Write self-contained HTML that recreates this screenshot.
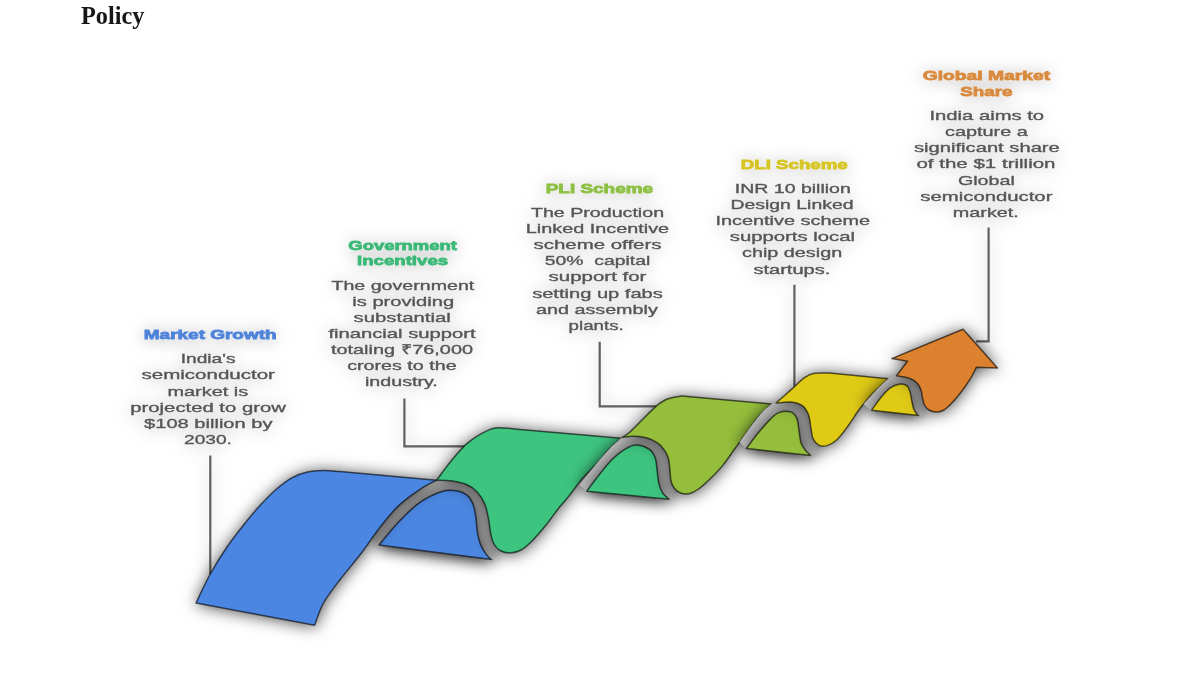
<!DOCTYPE html>
<html><head><meta charset="utf-8"><style>
html,body{margin:0;padding:0;background:#fff;width:1200px;height:675px;overflow:hidden}
svg{position:absolute;left:0;top:0}
</style></head><body>
<svg width="1200" height="675" viewBox="0 0 1200 675" font-family="Liberation Sans, sans-serif">
<defs>
<filter id="sh" x="-50%" y="-50%" width="200%" height="200%">
<feDropShadow dx="0.5" dy="1" stdDeviation="8" flood-color="#000" flood-opacity="0.7"/>
</filter>
<filter id="th" x="-20%" y="-20%" width="140%" height="140%">
<feDropShadow dx="0" dy="1" stdDeviation="8" flood-color="#000" flood-opacity="0.3"/>
</filter>
<filter id="blur" filterUnits="userSpaceOnUse" x="0" y="0" width="1200" height="675"><feGaussianBlur stdDeviation="0.6"/></filter>
</defs>
<g filter="url(#blur)">
<text x="81" y="23.8" font-family="Liberation Serif, serif" font-weight="bold" font-size="24.8" textLength="63.5" lengthAdjust="spacingAndGlyphs" fill="#151515">Policy</text>
<g filter="url(#th)">
<path d="M210.3,455.5 L210.3,574" fill="none" stroke="#606060" stroke-width="2.2"/>
<path d="M404.4,398.5 L404.4,446.3 L466,446.3" fill="none" stroke="#606060" stroke-width="2.2"/>
<path d="M599.7,341.7 L599.7,406.3 L656,406.3" fill="none" stroke="#606060" stroke-width="2.2"/>
<path d="M794.4,284.7 L794.4,386" fill="none" stroke="#606060" stroke-width="2.2"/>
<path d="M988.6,227.5 L988.6,341.3 L976,341.3" fill="none" stroke="#606060" stroke-width="2.2"/>
</g>
<path d="M371.5,539.0 C376.0,533.5 390.4,514.1 398.4,505.9 C406.4,497.7 413.2,493.9 419.6,489.6 C426.0,485.3 433.7,481.9 436.5,480.3 C439.1,480.4 447.1,480.4 452.2,481.1 C457.3,481.9 462.8,483.0 467.0,484.8 C471.2,486.6 474.4,489.0 477.4,492.2 C480.4,495.4 482.9,499.7 484.8,504.1 C486.7,508.6 487.5,514.0 488.5,518.9 C489.5,523.8 489.8,529.5 490.7,533.7 C491.6,537.9 492.6,541.1 493.7,544.1 C494.8,547.1 496.4,550.7 497.0,552.0 L491.5,559.6 L379.0,545.0 Z" fill="#bdbdbd" stroke="none" filter="url(#sh)"/>
<path d="M379.0,545.0 C382.2,541.2 391.6,529.3 398.4,522.2 C405.2,515.1 412.4,507.7 419.6,502.6 C426.9,497.5 435.7,493.5 441.9,491.5 C448.1,489.5 452.5,490.1 456.7,490.7 C460.9,491.3 464.3,493.0 467.0,495.2 C469.7,497.4 471.5,500.4 473.0,504.1 C474.5,507.8 475.2,512.7 475.9,517.4 C476.6,522.1 476.6,527.8 477.4,532.2 C478.1,536.7 478.9,540.4 480.4,544.1 C481.9,547.8 484.4,551.8 486.3,554.4 C488.2,557.0 490.6,558.7 491.5,559.6 Z" fill="#4c87e2" stroke="#000" stroke-opacity="0.62" stroke-width="1.5" stroke-linejoin="round" filter="url(#sh)"/>
<path d="M196.0,603.0 C198.4,598.2 205.1,583.3 210.3,574.0 C215.5,564.7 221.4,555.2 227.0,547.0 C232.6,538.8 238.4,531.5 244.0,524.5 C249.6,517.5 255.3,510.7 260.7,504.8 C266.1,498.9 271.1,493.7 276.3,489.2 C281.5,484.7 286.7,480.6 291.9,477.8 C297.1,475.0 302.2,473.3 307.4,472.1 C312.6,470.9 317.6,470.7 323.0,470.6 C328.4,470.5 337.2,471.4 340.0,471.6 L436.5,480.3 C433.7,481.9 426.0,485.3 419.6,489.6 C413.2,493.9 405.2,499.4 398.4,505.9 C391.6,512.4 384.9,521.1 378.9,528.7 C372.9,536.3 369.1,543.0 362.6,551.5 C356.1,560.0 346.4,571.4 339.8,580.0 C333.2,588.6 327.5,595.8 323.3,603.3 C319.1,610.8 316.1,621.6 314.7,625.2 Z" fill="#4c87e2" stroke="#000" stroke-opacity="0.62" stroke-width="1.5" stroke-linejoin="round" filter="url(#sh)"/>
<path d="M436.5,480.3 C438.9,477.2 445.5,467.8 450.7,461.5 C455.9,455.2 461.2,448.2 467.8,442.8 C474.4,437.4 484.3,431.9 490.1,429.4 C495.9,426.9 497.6,427.9 502.6,427.9 C507.6,427.9 517.1,429.1 520.0,429.4 L621.0,438.3 C619.1,440.0 613.8,444.4 609.6,448.7 C605.5,453.0 600.7,459.1 596.1,464.2 C591.5,469.2 586.5,473.7 582.0,479.0 C577.5,484.3 573.0,491.0 569.0,496.0 C565.0,501.0 561.8,504.2 558.0,509.0 C554.2,513.8 550.3,519.7 546.0,525.0 C541.7,530.3 536.2,536.8 532.0,541.0 C527.8,545.2 524.7,548.0 521.0,550.0 C517.3,552.0 513.5,552.9 510.0,553.0 C506.5,553.1 502.7,552.0 500.0,550.5 C497.3,549.0 495.6,546.8 494.0,544.0 C492.4,541.2 491.6,537.9 490.7,533.7 C489.8,529.5 489.5,523.8 488.5,518.9 C487.5,514.0 486.7,508.6 484.8,504.1 C482.9,499.7 480.4,495.4 477.4,492.2 C474.4,489.0 471.2,486.6 467.0,484.8 C462.8,483.0 457.3,481.9 452.2,481.1 C447.1,480.4 439.1,480.4 436.5,480.3 Z" fill="#3dc47f" stroke="#000" stroke-opacity="0.62" stroke-width="1.5" stroke-linejoin="round" filter="url(#sh)"/>
<path d="M579.8,485.0 C582.5,481.5 591.1,470.2 596.1,464.2 C601.1,458.1 605.5,453.0 609.6,448.7 C613.8,444.4 619.1,440.0 621.0,438.3 C622.5,438.0 626.4,436.6 630.0,436.4 C633.6,436.2 638.8,436.4 642.6,437.0 C646.4,437.6 649.6,438.6 652.7,440.2 C655.9,441.8 659.0,443.7 661.5,446.4 C664.0,449.1 666.4,452.9 667.8,456.5 C669.2,460.1 669.2,463.9 669.7,467.9 C670.2,471.9 670.2,477.1 670.9,480.5 C671.6,483.9 672.9,486.1 674.1,488.0 C675.3,489.9 677.4,491.3 678.0,492.0 L669.0,499.3 L586.8,491.2 Z" fill="#bdbdbd" stroke="none" filter="url(#sh)"/>
<path d="M586.8,491.2 C588.3,489.1 592.5,483.5 596.1,478.8 C599.7,474.1 604.5,467.7 608.6,463.2 C612.8,458.7 616.6,454.8 621.0,451.8 C625.4,448.8 630.4,445.5 635.0,445.0 C639.6,444.5 645.5,446.9 648.9,449.0 C652.3,451.1 653.8,454.2 655.2,457.8 C656.6,461.4 656.5,466.0 657.1,470.4 C657.7,474.8 658.1,480.4 659.0,484.2 C659.9,488.0 661.0,490.5 662.7,493.0 C664.4,495.5 668.0,498.2 669.0,499.3 Z" fill="#3dc47f" stroke="#000" stroke-opacity="0.62" stroke-width="1.5" stroke-linejoin="round" filter="url(#sh)"/>
<path d="M622.0,437.5 C623.3,436.6 626.5,435.1 630.0,432.0 C633.5,428.9 638.7,423.3 643.0,419.0 C647.3,414.7 652.0,409.6 656.0,406.3 C660.0,403.0 662.7,401.0 666.7,399.3 C670.7,397.6 676.1,396.6 680.0,396.2 C683.9,395.8 688.3,396.7 690.0,396.8 L771.5,404.1 C769.5,406.0 763.8,410.4 759.6,415.2 C755.4,420.0 750.5,427.3 746.3,433.0 C742.1,438.7 738.3,443.9 734.4,449.3 C730.5,454.7 726.6,460.7 722.6,465.6 C718.6,470.5 714.5,474.6 710.5,478.5 C706.5,482.4 702.0,486.5 698.5,489.0 C695.0,491.5 692.2,493.0 689.2,493.7 C686.2,494.4 682.9,493.9 680.4,493.0 C677.9,492.1 675.7,490.1 674.1,488.0 C672.5,485.9 671.6,483.9 670.9,480.5 C670.2,477.1 670.2,471.9 669.7,467.9 C669.2,463.9 669.2,460.1 667.8,456.5 C666.4,452.9 664.0,449.1 661.5,446.4 C659.0,443.7 655.9,441.8 652.7,440.2 C649.6,438.6 646.4,437.6 642.6,437.0 C638.8,436.4 633.4,436.3 630.0,436.4 C626.6,436.5 623.3,437.3 622.0,437.5 Z" fill="#94be3a" stroke="#000" stroke-opacity="0.62" stroke-width="1.5" stroke-linejoin="round" filter="url(#sh)"/>
<path d="M739.7,442.0 C743.0,437.5 754.3,421.5 759.6,415.2 C764.9,408.9 769.5,406.0 771.5,404.1 C772.7,403.8 775.4,402.5 778.9,402.2 C782.4,401.9 788.2,401.6 792.2,402.2 C796.2,402.8 799.9,403.8 802.6,405.9 C805.3,408.0 807.1,411.3 808.5,414.8 C809.9,418.3 810.0,422.8 810.7,426.7 C811.5,430.6 811.6,435.4 813.0,438.5 C814.4,441.6 817.4,443.8 818.9,445.2 C820.4,446.6 821.5,446.7 822.0,447.0 L810.7,455.6 L746.3,448.5 Z" fill="#bdbdbd" stroke="none" filter="url(#sh)"/>
<path d="M746.3,448.5 C748.3,445.9 754.1,437.8 758.1,433.0 C762.1,428.2 766.5,423.0 770.0,419.6 C773.5,416.2 775.4,413.9 778.9,412.6 C782.4,411.3 787.7,411.0 790.7,411.9 C793.7,412.8 795.3,414.9 796.7,417.8 C798.1,420.8 798.2,425.4 798.9,429.6 C799.6,433.8 800.0,439.5 801.1,443.0 C802.2,446.5 804.0,448.3 805.6,450.4 C807.2,452.5 809.9,454.7 810.7,455.6 Z" fill="#94be3a" stroke="#000" stroke-opacity="0.62" stroke-width="1.5" stroke-linejoin="round" filter="url(#sh)"/>
<path d="M776.0,403.0 C779.0,400.4 789.0,391.6 793.7,387.4 C798.4,383.2 800.7,380.1 804.1,377.8 C807.5,375.5 810.2,374.1 814.4,373.3 C818.6,372.5 826.8,373.1 829.3,373.0 L888.2,378.8 C886.6,380.3 881.9,384.6 878.7,387.7 C875.5,390.8 872.4,393.6 869.2,397.2 C866.0,400.8 863.0,404.3 859.5,409.0 C856.0,413.7 852.3,420.0 848.5,425.2 C844.7,430.4 840.4,436.6 836.7,440.0 C833.0,443.4 829.3,445.0 826.3,445.9 C823.3,446.8 821.1,446.4 818.9,445.2 C816.7,444.0 814.4,441.6 813.0,438.5 C811.6,435.4 811.5,430.6 810.7,426.7 C810.0,422.8 809.9,418.3 808.5,414.8 C807.1,411.3 805.3,408.0 802.6,405.9 C799.9,403.8 796.6,402.7 792.2,402.2 C787.8,401.7 778.7,402.9 776.0,403.0 Z" fill="#dfca15" stroke="#000" stroke-opacity="0.62" stroke-width="1.5" stroke-linejoin="round" filter="url(#sh)"/>
<path d="M863.6,404.0 C866.1,401.3 874.6,391.9 878.7,387.7 C882.8,383.5 886.6,380.3 888.2,378.8 L896.5,375.8 C898.1,376.0 903.0,376.2 906.0,377.0 C909.0,377.8 912.0,379.0 914.3,380.6 C916.6,382.2 918.4,384.1 919.7,386.5 C921.0,388.9 921.3,391.8 922.0,394.8 C922.7,397.8 922.7,401.8 923.8,404.3 C924.9,406.8 927.7,408.7 928.5,409.6 L918.5,415.6 L871.6,410.2 Z" fill="#bdbdbd" stroke="none" filter="url(#sh)"/>
<path d="M871.6,410.2 C873.2,408.0 877.9,400.9 881.1,397.2 C884.3,393.4 887.4,389.9 890.6,387.7 C893.8,385.5 897.3,384.4 900.1,384.1 C902.9,383.8 905.5,384.5 907.2,385.9 C908.9,387.3 909.4,389.7 910.2,392.4 C911.0,395.1 911.3,398.9 912.0,401.9 C912.7,404.9 913.2,407.9 914.3,410.2 C915.4,412.5 917.8,414.7 918.5,415.6 Z" fill="#dfca15" stroke="#000" stroke-opacity="0.62" stroke-width="1.5" stroke-linejoin="round" filter="url(#sh)"/>
<path d="M896.5,375.8 L907.5,361.2 L891.8,358.6 L963.0,329.2 L997.5,367.9 L976.4,367.2 C975.4,369.2 972.8,374.9 970.1,379.2 C967.4,383.5 963.5,389.0 960.2,393.2 C956.9,397.4 953.3,401.6 950.4,404.5 C947.5,407.4 945.4,409.2 943.0,410.5 C940.6,411.8 938.3,412.1 936.0,412.0 C933.7,411.9 930.9,411.2 929.0,410.0 C927.1,408.8 925.6,407.0 924.5,405.0 C923.4,403.0 923.1,400.5 922.5,398.0 C921.9,395.5 921.9,392.5 921.0,390.0 C920.1,387.5 918.8,384.9 917.0,383.0 C915.2,381.1 913.4,379.7 910.0,378.5 C906.6,377.3 898.8,376.2 896.5,375.8 Z" fill="#dc822f" stroke="#000" stroke-opacity="0.62" stroke-width="1.5" stroke-linejoin="round" filter="url(#sh)"/>
<g filter="url(#th)">
<text x="210.2" y="338.9" font-size="13.2" font-weight="bold" fill="#4f83d9" text-anchor="middle" textLength="132.8" lengthAdjust="spacingAndGlyphs" stroke="#4f83d9" stroke-width="0.8">Market Growth</text>
<text x="208.1" y="363.3" font-size="13.6" font-weight="normal" fill="#555555" text-anchor="middle" textLength="54.7" lengthAdjust="spacingAndGlyphs" stroke="#555555" stroke-width="0.35">India's</text>
<text x="208.2" y="379.4" font-size="13.6" font-weight="normal" fill="#555555" text-anchor="middle" textLength="133.4" lengthAdjust="spacingAndGlyphs" stroke="#555555" stroke-width="0.35">semiconductor</text>
<text x="207.8" y="395.6" font-size="13.6" font-weight="normal" fill="#555555" text-anchor="middle" textLength="80.7" lengthAdjust="spacingAndGlyphs" stroke="#555555" stroke-width="0.35">market is</text>
<text x="208.1" y="411.7" font-size="13.6" font-weight="normal" fill="#555555" text-anchor="middle" textLength="155.6" lengthAdjust="spacingAndGlyphs" stroke="#555555" stroke-width="0.35">projected to grow</text>
<text x="208.3" y="427.9" font-size="13.6" font-weight="normal" fill="#555555" text-anchor="middle" textLength="128.5" lengthAdjust="spacingAndGlyphs" stroke="#555555" stroke-width="0.35">$108 billion by</text>
<text x="208.0" y="444.0" font-size="13.6" font-weight="normal" fill="#555555" text-anchor="middle" textLength="47.9" lengthAdjust="spacingAndGlyphs" stroke="#555555" stroke-width="0.35">2030.</text>
<text x="402.6" y="250.2" font-size="13.2" font-weight="bold" fill="#3bb877" text-anchor="middle" textLength="108.6" lengthAdjust="spacingAndGlyphs" stroke="#3bb877" stroke-width="0.8">Government</text>
<text x="402.6" y="265.3" font-size="13.2" font-weight="bold" fill="#3bb877" text-anchor="middle" textLength="91.0" lengthAdjust="spacingAndGlyphs" stroke="#3bb877" stroke-width="0.8">Incentives</text>
<text x="402.9" y="290.0" font-size="13.6" font-weight="normal" fill="#555555" text-anchor="middle" textLength="142.9" lengthAdjust="spacingAndGlyphs" stroke="#555555" stroke-width="0.35">The government</text>
<text x="403.2" y="306.1" font-size="13.6" font-weight="normal" fill="#555555" text-anchor="middle" textLength="101.8" lengthAdjust="spacingAndGlyphs" stroke="#555555" stroke-width="0.35">is providing</text>
<text x="402.2" y="322.1" font-size="13.6" font-weight="normal" fill="#555555" text-anchor="middle" textLength="97.3" lengthAdjust="spacingAndGlyphs" stroke="#555555" stroke-width="0.35">substantial</text>
<text x="402.0" y="338.1" font-size="13.6" font-weight="normal" fill="#555555" text-anchor="middle" textLength="147.2" lengthAdjust="spacingAndGlyphs" stroke="#555555" stroke-width="0.35">financial support</text>
<text x="402.0" y="354.2" font-size="13.6" font-weight="normal" fill="#555555" text-anchor="middle" textLength="142.1" lengthAdjust="spacingAndGlyphs" stroke="#555555" stroke-width="0.35">totaling ₹76,000</text>
<text x="401.9" y="370.2" font-size="13.6" font-weight="normal" fill="#555555" text-anchor="middle" textLength="109.4" lengthAdjust="spacingAndGlyphs" stroke="#555555" stroke-width="0.35">crores to the</text>
<text x="401.4" y="386.3" font-size="13.6" font-weight="normal" fill="#555555" text-anchor="middle" textLength="72.8" lengthAdjust="spacingAndGlyphs" stroke="#555555" stroke-width="0.35">industry.</text>
<text x="599.4" y="193.2" font-size="13.2" font-weight="bold" fill="#8dc043" text-anchor="middle" textLength="107.3" lengthAdjust="spacingAndGlyphs" stroke="#8dc043" stroke-width="0.8">PLI Scheme</text>
<text x="597.5" y="216.6" font-size="13.6" font-weight="normal" fill="#555555" text-anchor="middle" textLength="133.2" lengthAdjust="spacingAndGlyphs" stroke="#555555" stroke-width="0.35">The Production</text>
<text x="597.5" y="232.8" font-size="13.6" font-weight="normal" fill="#555555" text-anchor="middle" textLength="143.3" lengthAdjust="spacingAndGlyphs" stroke="#555555" stroke-width="0.35">Linked Incentive</text>
<text x="597.5" y="249.0" font-size="13.6" font-weight="normal" fill="#555555" text-anchor="middle" textLength="128.1" lengthAdjust="spacingAndGlyphs" stroke="#555555" stroke-width="0.35">scheme offers</text>
<text x="597.5" y="265.2" font-size="13.6" font-weight="normal" fill="#555555" text-anchor="middle" textLength="105.5" lengthAdjust="spacingAndGlyphs" stroke="#555555" stroke-width="0.35">50%  capital</text>
<text x="597.5" y="281.4" font-size="13.6" font-weight="normal" fill="#555555" text-anchor="middle" textLength="97.9" lengthAdjust="spacingAndGlyphs" stroke="#555555" stroke-width="0.35">support for</text>
<text x="597.5" y="297.6" font-size="13.6" font-weight="normal" fill="#555555" text-anchor="middle" textLength="130.7" lengthAdjust="spacingAndGlyphs" stroke="#555555" stroke-width="0.35">setting up fabs</text>
<text x="596.9" y="313.8" font-size="13.6" font-weight="normal" fill="#555555" text-anchor="middle" textLength="121.8" lengthAdjust="spacingAndGlyphs" stroke="#555555" stroke-width="0.35">and assembly</text>
<text x="596.2" y="330.0" font-size="13.6" font-weight="normal" fill="#555555" text-anchor="middle" textLength="55.2" lengthAdjust="spacingAndGlyphs" stroke="#555555" stroke-width="0.35">plants.</text>
<text x="794.3" y="168.6" font-size="13.2" font-weight="bold" fill="#d6c524" text-anchor="middle" textLength="106.9" lengthAdjust="spacingAndGlyphs" stroke="#d6c524" stroke-width="0.8">DLI Scheme</text>
<text x="792.8" y="192.7" font-size="13.6" font-weight="normal" fill="#555555" text-anchor="middle" textLength="116.0" lengthAdjust="spacingAndGlyphs" stroke="#555555" stroke-width="0.35">INR 10 billion</text>
<text x="792.0" y="208.9" font-size="13.6" font-weight="normal" fill="#555555" text-anchor="middle" textLength="123.1" lengthAdjust="spacingAndGlyphs" stroke="#555555" stroke-width="0.35">Design Linked</text>
<text x="792.8" y="225.0" font-size="13.6" font-weight="normal" fill="#555555" text-anchor="middle" textLength="154.8" lengthAdjust="spacingAndGlyphs" stroke="#555555" stroke-width="0.35">Incentive scheme</text>
<text x="792.4" y="241.2" font-size="13.6" font-weight="normal" fill="#555555" text-anchor="middle" textLength="125.3" lengthAdjust="spacingAndGlyphs" stroke="#555555" stroke-width="0.35">supports local</text>
<text x="792.1" y="257.3" font-size="13.6" font-weight="normal" fill="#555555" text-anchor="middle" textLength="100.1" lengthAdjust="spacingAndGlyphs" stroke="#555555" stroke-width="0.35">chip design</text>
<text x="791.9" y="273.5" font-size="13.6" font-weight="normal" fill="#555555" text-anchor="middle" textLength="76.9" lengthAdjust="spacingAndGlyphs" stroke="#555555" stroke-width="0.35">startups.</text>
<text x="986.4" y="80.2" font-size="13.2" font-weight="bold" fill="#d98a3e" text-anchor="middle" textLength="127.4" lengthAdjust="spacingAndGlyphs" stroke="#d98a3e" stroke-width="0.8">Global Market</text>
<text x="986.4" y="95.7" font-size="13.2" font-weight="bold" fill="#d98a3e" text-anchor="middle" textLength="52.2" lengthAdjust="spacingAndGlyphs" stroke="#d98a3e" stroke-width="0.8">Share</text>
<text x="986.8" y="119.8" font-size="13.6" font-weight="normal" fill="#555555" text-anchor="middle" textLength="114.7" lengthAdjust="spacingAndGlyphs" stroke="#555555" stroke-width="0.35">India aims to</text>
<text x="986.4" y="136.0" font-size="13.6" font-weight="normal" fill="#555555" text-anchor="middle" textLength="82.8" lengthAdjust="spacingAndGlyphs" stroke="#555555" stroke-width="0.35">capture a</text>
<text x="986.9" y="152.2" font-size="13.6" font-weight="normal" fill="#555555" text-anchor="middle" textLength="145.8" lengthAdjust="spacingAndGlyphs" stroke="#555555" stroke-width="0.35">significant share</text>
<text x="986.0" y="168.4" font-size="13.6" font-weight="normal" fill="#555555" text-anchor="middle" textLength="139.1" lengthAdjust="spacingAndGlyphs" stroke="#555555" stroke-width="0.35">of the $1 trillion</text>
<text x="986.4" y="184.6" font-size="13.6" font-weight="normal" fill="#555555" text-anchor="middle" textLength="56.9" lengthAdjust="spacingAndGlyphs" stroke="#555555" stroke-width="0.35">Global</text>
<text x="986.4" y="200.8" font-size="13.6" font-weight="normal" fill="#555555" text-anchor="middle" textLength="132.1" lengthAdjust="spacingAndGlyphs" stroke="#555555" stroke-width="0.35">semiconductor</text>
<text x="985.8" y="217.0" font-size="13.6" font-weight="normal" fill="#555555" text-anchor="middle" textLength="66.0" lengthAdjust="spacingAndGlyphs" stroke="#555555" stroke-width="0.35">market.</text>
</g>
</g>
</svg>
</body></html>
